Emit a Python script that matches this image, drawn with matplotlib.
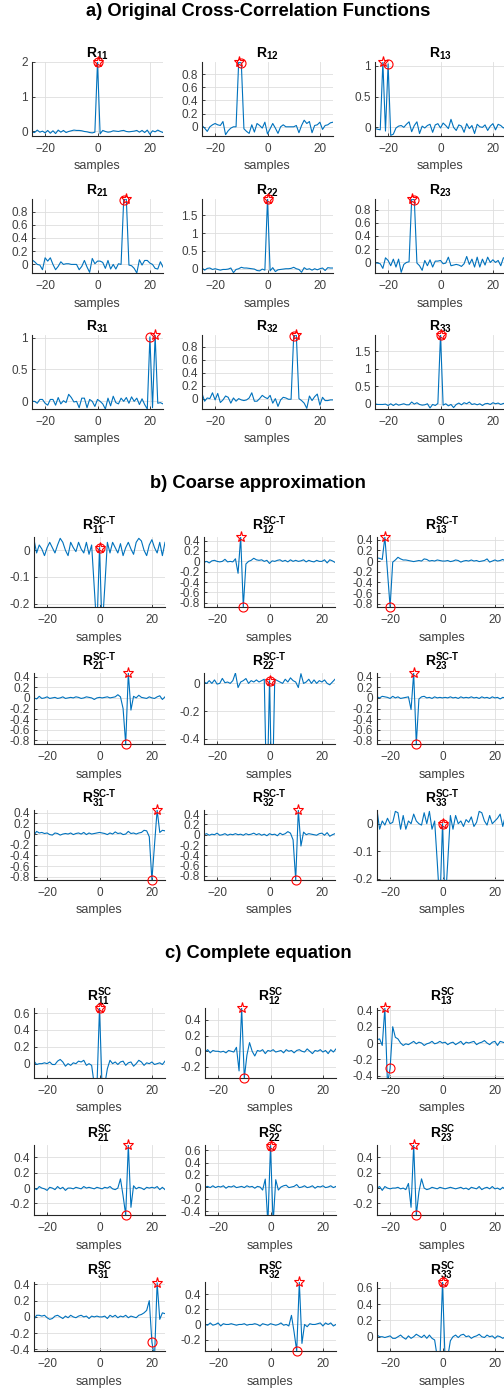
import numpy as np
import matplotlib.pyplot as plt
from matplotlib.ticker import MultipleLocator, FuncFormatter

plt.rcParams['font.family'] = ['Liberation Sans', 'DejaVu Sans']
plt.rcParams['mathtext.fontset'] = 'custom'
plt.rcParams['mathtext.rm'] = 'Liberation Sans:bold'
plt.rcParams['mathtext.it'] = 'Liberation Sans:bold'
plt.rcParams['mathtext.bf'] = 'Liberation Sans:bold'
plt.rcParams['mathtext.default'] = 'rm'

lags = np.arange(-25, 26)

# ---- a) original cross-correlation functions
a11 = [-0.02, -0.03, 0.04, -0.02, 0.01, -0.04, 0.03, -0.05, 0.02, -0.06,
       0.04, -0.02, 0.03, -0.03, 0.0, 0.02, 0.04, 0.03, 0.03, 0.02,
       0.0, -0.01, -0.03, -0.04, -0.02, 2.0,
       -0.07, 0.03, 0.0, -0.02, -0.01, 0.02, 0.01, 0.0, 0.02, 0.03,
       0.0, -0.01, 0.0, 0.01, 0.03, -0.02, 0.03, -0.03, 0.04, -0.08,
       0.02, -0.01, 0.04, 0.0, -0.03]
a12 = [0.02, -0.02, -0.07, 0.0, 0.03, 0.05, 0.03, 0.02, 0.08, -0.12,
       -0.06, -0.02, 0.0, 0.0, 0.985, 0.97, -0.03, -0.07, -0.1, 0.03,
       -0.08, 0.05, 0.02, -0.02, 0.07, -0.11,
       -0.03, 0.05, -0.02, -0.1, 0.0, 0.03, 0.0, 0.0, 0.0, 0.0,
       0.02, -0.09, 0.02, 0.1, 0.05, 0.08, -0.09, 0.02, 0.03, 0.07,
       -0.04, 0.02, 0.03, 0.06, 0.07]
a13 = [-0.02, -0.03, -0.04, 1.06, -0.06, 1.03, -0.13, -0.11, -0.01, 0.02,
       0.03, 0.0, 0.05, 0.09, -0.07, 0.03, 0.09, -0.1, 0.02, -0.01,
       0.03, 0.05, -0.08, 0.04, 0.06, -0.01,
       0.07, 0.03, -0.02, 0.13, 0.0, -0.05, 0.04, 0.02, -0.08, 0.06,
       -0.02, 0.03, -0.1, 0.05, 0.01, 0.0, 0.04, -0.05, 0.02, 0.06,
       -0.04, 0.05, 0.03, -0.01, 0.02]
a21 = [0.07, 0.04, 0.0, -0.01, -0.08, 0.1, 0.05, 0.1, 0.0, -0.08,
       -0.03, 0.04, 0.0, 0.01, 0.01, 0.0, 0.0, 0.0, -0.08, -0.03,
       0.06, -0.04, -0.12, 0.09, 0.01, 0.05,
       0.05, 0.03, -0.06, 0.06, -0.07, 0.0, -0.07, 0.01, 0.0, 0.98,
       0.99, -0.01, -0.02, -0.06, -0.13, 0.07, -0.01, 0.06, 0.06, 0.02,
       0.0, -0.06, -0.07, 0.04, -0.04]
a22 = [0.02, -0.04, 0.01, 0.02, -0.02, 0.0, -0.02, -0.04, -0.02, -0.02,
       -0.01, 0.02, -0.11, -0.02, 0.0, 0.04, 0.02, 0.02, 0.01, 0.0,
       -0.01, -0.05, -0.06, -0.01, -0.04, 1.96,
       -0.06, 0.03, -0.08, -0.03, -0.02, -0.01, 0.0, 0.0, 0.01, 0.04,
       0.0, -0.02, -0.1, 0.03, -0.02, 0.0, -0.04, 0.0, -0.03, 0.0,
       0.02, -0.05, 0.03, 0.02, 0.02]
a23 = [-0.01, -0.01, -0.02, -0.09, 0.07, 0.03, -0.05, 0.05, -0.07, 0.05,
       -0.15, -0.03, 0.0, 0.01, 0.96, 0.95, -0.01, -0.05, -0.12, 0.03,
       -0.05, 0.04, -0.07, 0.02, 0.02, 0.03,
       -0.02, -0.01, 0.08, -0.05, -0.04, -0.03, -0.04, -0.06, -0.02, 0.09,
       -0.03, 0.05, -0.07, 0.08, -0.07, 0.05, -0.04, 0.08, 0.0, 0.04,
       0.0, 0.03, -0.05, 0.07, 0.06]
a31 = [0.0, 0.0, -0.03, 0.03, 0.03, -0.03, -0.06, 0.03, 0.03, -0.06,
       0.06, -0.04, 0.01, -0.02, 0.11, 0.06, -0.01, 0.0, -0.1, 0.05,
       0.05, -0.1, 0.03, 0.0, -0.08, 0.03,
       0.0, -0.04, -0.12, 0.05, -0.07, 0.08, -0.02, -0.04, 0.05, 0.0,
       0.06, -0.03, 0.07, 0.0, 0.05, -0.05, 0.04, -0.05, -0.12, 1.01,
       -0.1, 1.04, -0.03, -0.02, -0.04]
a32 = [0.08, -0.04, 0.01, 0.0, 0.09, -0.02, 0.08, -0.06, -0.02, 0.04,
       0.02, -0.07, 0.01, -0.04, 0.0, -0.02, -0.03, -0.02, 0.01, 0.09,
       -0.04, -0.04, 0.0, 0.05, 0.02, 0.0,
       0.05, -0.07, 0.0, -0.12, -0.02, 0.02, 0.01, -0.01, -0.01, 0.97,
       0.98, 0.0, -0.03, -0.07, -0.15, 0.04, -0.03, 0.03, 0.07, -0.1,
       0.02, -0.03, -0.03, -0.02, -0.02]
a33 = [0.0, -0.02, -0.02, -0.02, -0.01, -0.05, 0.0, -0.05, 0.0, -0.04,
       -0.02, 0.0, -0.03, -0.03, 0.05, -0.01, 0.03, -0.02, -0.04, -0.03,
       0.0, -0.12, -0.02, -0.05, 0.01, 1.97,
       -0.04, 0.0, -0.06, -0.02, -0.11, -0.02, 0.02, -0.03, 0.03, 0.0,
       0.05, -0.02, 0.0, -0.03, 0.0, -0.05, 0.0, 0.01, -0.02, 0.03,
       0.0, 0.02, -0.02, 0.01, 0.0]

# ---- b) coarse approximation
b11 = [0.04, -0.01, 0.02, 0.005, -0.02, 0.01, 0.03, 0.01, -0.01, 0.02,
       0.045, 0.03, 0.0, -0.02, 0.03, 0.01, -0.005, 0.03, 0.005, -0.01,
       0.03, -0.015, 0.02, -0.14, -0.3, 0.01,
       -0.3, -0.14, 0.03, -0.01, 0.03, 0.01, -0.01, 0.025, -0.02, 0.01,
       0.03, 0.005, -0.015, 0.03, 0.045, 0.035, 0.0, -0.02, 0.02, 0.04,
       0.01, -0.01, 0.03, -0.02, 0.03]
b12 = [-0.02, 0.0, -0.03, 0.01, 0.02, 0.0, -0.01, 0.0, 0.04, -0.01,
       0.0, -0.01, 0.05, -0.23, 0.47, -0.88, -0.05, 0.0, 0.02, 0.06,
       0.03, 0.02, 0.03, 0.0, 0.02, -0.04,
       0.01, 0.0, 0.02, 0.03, 0.0, 0.02, -0.01, 0.03, 0.0, 0.02,
       0.0, 0.01, 0.03, -0.01, 0.02, 0.0, -0.01, 0.02, 0.0, 0.0,
       0.03, -0.03, 0.03, 0.01, -0.02]
b13 = [0.06, 0.05, 0.03, 0.45, -0.2, -0.86, -0.02, 0.02, 0.07, 0.04,
       0.02, 0.02, 0.01, 0.0, -0.01, 0.0, 0.01, 0.0, 0.04, 0.03,
       0.0, 0.01, 0.0, 0.02, 0.01, 0.0,
       0.0, 0.01, -0.01, 0.0, 0.02, 0.01, -0.02, 0.0, 0.01, 0.0,
       0.02, 0.0, 0.01, -0.01, 0.0, 0.01, 0.04, -0.02, 0.0, 0.02,
       0.0, 0.01, 0.03, 0.0, 0.02]
b21 = [0.0, -0.02, 0.03, -0.01, 0.0, 0.02, -0.01, 0.0, 0.01, -0.01,
       0.0, 0.02, -0.01, 0.0, 0.01, 0.0, 0.02, 0.01, -0.01, 0.0,
       0.02, 0.01, 0.0, -0.03, 0.0, 0.01,
       0.0, 0.01, 0.02, 0.0, 0.01, 0.02, 0.06, 0.02, -0.2, -0.87,
       0.47, -0.23, 0.03, 0.0, 0.05, 0.01, 0.0, -0.01, 0.02, 0.0,
       -0.01, 0.02, 0.04, -0.03, 0.02]
b22 = [0.01, 0.0, 0.02, 0.0, 0.025, -0.005, 0.0, 0.036, 0.005, 0.01,
       0.0, 0.02, 0.075, -0.03, 0.01, 0.02, 0.035, 0.0, 0.02, 0.01,
       0.025, 0.01, 0.02, 0.03, -0.9, 0.02,
       -0.9, 0.03, 0.02, 0.01, 0.0, 0.03, 0.01, 0.04, 0.02, 0.01,
       -0.03, 0.07, 0.0, 0.01, 0.03, 0.0, 0.025, 0.0, 0.02, 0.01,
       0.025, 0.0, -0.01, 0.01, 0.03]
b23 = [0.02, 0.0, 0.03, 0.02, 0.01, -0.01, 0.03, 0.0, 0.02, -0.01,
       0.0, 0.01, 0.02, -0.22, 0.47, -0.87, -0.02, 0.02, 0.03, 0.0,
       0.01, -0.01, 0.02, 0.0, 0.01, 0.0,
       0.01, 0.0, 0.02, 0.0, 0.01, -0.01, 0.02, 0.0, 0.01, 0.0,
       0.02, 0.0, 0.01, -0.01, 0.02, 0.0, 0.01, -0.01, 0.02, 0.0,
       0.01, -0.02, 0.01, 0.0, -0.03]
b31 = [-0.02, 0.05, 0.02, 0.03, 0.01, 0.02, -0.01, -0.02, 0.02, 0.01,
       -0.02, 0.0, 0.01, 0.0, 0.02, -0.01, 0.01, 0.02, 0.0, 0.03,
       -0.01, 0.02, 0.0, 0.01, 0.02, 0.03,
       0.02, 0.01, -0.01, 0.02, 0.0, 0.04, 0.01, 0.02, -0.01, 0.0,
       0.05, 0.01, 0.02, 0.0, 0.02, 0.03, 0.07, 0.06, -0.05, -0.86,
       -0.2, 0.45, 0.03, 0.07, 0.06]
b32 = [0.0, 0.02, -0.01, 0.01, 0.0, 0.03, -0.01, 0.0, 0.02, -0.01,
       0.01, 0.0, 0.02, 0.0, 0.01, -0.01, 0.02, 0.0, 0.01, 0.03,
       0.0, 0.02, -0.01, 0.01, -0.02, 0.02,
       0.0, 0.01, -0.02, 0.03, 0.0, 0.02, 0.06, 0.03, -0.1, -0.88,
       0.48, -0.22, 0.05, 0.0, 0.02, 0.01, 0.0, -0.01, 0.02, 0.03,
       -0.01, 0.04, -0.03, 0.0, 0.02]
b33 = [0.05, -0.02, 0.01, -0.005, 0.02, 0.0, 0.005, 0.045, 0.04, -0.02,
       0.03, -0.02, 0.01, 0.0, 0.035, 0.01, 0.0, -0.005, 0.04, 0.0,
       0.045, -0.02, 0.01, -0.14, -0.3, 0.0,
       -0.3, -0.14, 0.03, -0.02, 0.03, 0.0, 0.01, -0.01, 0.015, 0.005,
       0.025, -0.01, 0.005, 0.045, 0.04, 0.01, -0.005, 0.03, 0.0, 0.01,
       0.02, 0.035, -0.01, 0.03, 0.02]

# ---- c) complete equation
c11 = [0.03, -0.01, 0.0, 0.0, 0.01, 0.0, 0.02, -0.01, -0.01, 0.03,
       0.05, 0.02, -0.03, 0.0, -0.02, 0.01, 0.0, 0.03, 0.02, 0.04,
       -0.02, 0.0, -0.02, -0.25, -0.3, 0.66,
       -0.3, -0.25, -0.06, 0.04, 0.0, 0.02, -0.01, 0.02, 0.03, -0.02,
       0.01, 0.02, -0.03, 0.0, 0.04, 0.02, -0.02, 0.01, 0.0, 0.02,
       -0.01, 0.0, 0.01, -0.01, 0.03]
c12 = [-0.01, 0.02, -0.02, 0.01, 0.0, 0.0, -0.01, 0.0, -0.02, 0.01,
       0.0, -0.01, 0.05, -0.25, 0.55, -0.34, -0.05, 0.11, 0.0, -0.06,
       0.01, 0.0, 0.02, -0.03, 0.01, 0.0,
       0.02, -0.01, 0.0, 0.01, -0.02, 0.02, 0.0, 0.01, -0.02, 0.01,
       0.02, 0.0, -0.01, 0.03, 0.0, -0.03, 0.01, 0.0, 0.02, -0.01,
       0.01, -0.03, 0.02, -0.01, 0.03]
c13 = [0.04, 0.05, -0.03, 0.43, -0.5, -0.31, 0.2, 0.07, 0.05, 0.0,
       -0.03, -0.01, -0.02, 0.0, 0.02, -0.01, 0.01, 0.0, -0.03, -0.01,
       0.0, 0.02, -0.01, 0.0, 0.02, 0.0,
       0.01, -0.02, 0.0, 0.01, -0.02, 0.0, 0.02, -0.02, 0.01, 0.0,
       0.01, 0.02, -0.02, 0.0, 0.01, 0.03, 0.0, -0.02, 0.01, 0.02,
       -0.03, 0.02, 0.01, 0.0, 0.02]
c21 = [0.0, -0.02, 0.02, 0.0, -0.01, -0.03, 0.01, 0.0, -0.02, 0.02,
       -0.01, 0.01, -0.03, 0.0, 0.0, -0.01, 0.01, 0.0, -0.01, 0.02,
       0.0, 0.01, 0.0, -0.01, 0.01, 0.0,
       -0.01, 0.01, 0.0, 0.02, -0.01, -0.02, 0.0, 0.12, -0.1, -0.35,
       0.56, -0.25, 0.03, -0.01, 0.01, 0.0, -0.02, 0.01, 0.0, 0.01,
       0.0, 0.02, -0.02, 0.01, -0.02]
c22 = [0.0, 0.01, -0.01, 0.02, -0.01, 0.01, 0.0, 0.02, -0.02, 0.01,
       0.0, 0.02, -0.01, 0.0, 0.01, -0.01, 0.02, 0.0, 0.01, -0.02,
       0.01, 0.0, -0.05, 0.13, -0.6, 0.68,
       -0.6, 0.12, -0.05, 0.0, 0.02, 0.03, -0.01, 0.0, 0.01, 0.04,
       -0.01, 0.0, 0.02, -0.01, 0.0, 0.02, -0.02, 0.01, 0.0, 0.02,
       -0.01, 0.0, 0.02, -0.01, 0.01]
c23 = [0.0, 0.02, -0.03, 0.02, 0.0, -0.01, 0.0, 0.0, 0.01, -0.01,
       0.0, -0.02, 0.06, -0.25, 0.56, -0.35, -0.05, 0.12, 0.0, -0.02,
       -0.01, 0.01, 0.0, -0.01, 0.01, 0.0,
       -0.01, 0.0, 0.01, 0.0, -0.01, 0.0, 0.01, -0.01, 0.0, -0.02,
       0.01, 0.0, -0.01, 0.02, -0.02, 0.0, 0.01, -0.01, 0.02, -0.01,
       0.0, -0.02, 0.01, -0.02, 0.0]
c31 = [-0.03, 0.02, 0.02, 0.01, 0.02, -0.01, -0.03, -0.02, 0.01, 0.02,
       0.0, -0.02, 0.01, -0.01, 0.02, 0.0, -0.01, 0.01, 0.02, 0.0,
       0.01, -0.02, 0.01, 0.0, 0.01, 0.0,
       0.0, 0.01, -0.02, 0.02, 0.0, 0.02, -0.01, 0.01, 0.0, 0.02,
       -0.01, 0.01, 0.0, -0.01, 0.02, 0.03, 0.05, 0.08, 0.2, -0.31,
       -0.5, 0.42, -0.03, 0.05, 0.04]
c32 = [0.0, -0.01, 0.02, -0.01, 0.0, 0.02, -0.02, 0.01, 0.0, 0.0,
       0.01, 0.0, -0.01, 0.0, 0.0, 0.01, -0.01, 0.0, 0.0, 0.01,
       0.0, -0.02, 0.01, 0.0, -0.01, 0.01,
       0.0, -0.01, 0.0, 0.02, -0.01, 0.0, -0.02, 0.12, -0.1, -0.35,
       0.56, -0.25, 0.0, -0.03, 0.01, 0.0, 0.0, 0.01, 0.02, -0.02,
       0.02, 0.0, 0.02, -0.02, 0.0]
c33 = [0.02, 0.0, 0.0, -0.01, 0.0, 0.01, -0.02, -0.02, 0.0, 0.02,
       -0.01, -0.03, 0.01, -0.02, 0.0, 0.03, 0.01, -0.01, 0.02, -0.02,
       0.02, -0.02, -0.04, -0.25, -0.3, 0.67,
       -0.3, -0.25, -0.05, 0.0, 0.02, -0.01, 0.02, 0.03, 0.0, 0.01,
       -0.02, 0.0, 0.01, 0.03, 0.0, -0.01, 0.02, 0.0, 0.01, -0.02,
       0.01, 0.0, -0.02, 0.0, 0.0]

pairs = ['11', '12', '13', '21', '22', '23', '31', '32', '33']
star_lags = [0, -11, -22, 11, 0, -11, 22, 11, 0]
circle_lags = [0, -10, -20, 10, 0, -10, 20, 10, 0]

ylims_a = [(-0.13, 2.0), (-0.14, 0.985), (-0.14, 1.06), (-0.13, 0.99), (-0.12, 1.96),
           (-0.16, 0.96), (-0.12, 1.04), (-0.16, 0.98), (-0.15, 1.97)]
ylims_b = [(-0.213, 0.05), (-0.88, 0.47), (-0.86, 0.45), (-0.87, 0.47), (-0.437, 0.075),
           (-0.87, 0.47), (-0.86, 0.45), (-0.88, 0.48), (-0.205, 0.05)]
ylims_c = [(-0.17, 0.66), (-0.34, 0.55), (-0.43, 0.43), (-0.35, 0.56), (-0.46, 0.69),
           (-0.35, 0.56), (-0.42, 0.43), (-0.35, 0.56), (-0.175, 0.67)]
ysteps_a = [1, 0.2, 0.5, 0.2, 0.5, 0.2, 0.5, 0.2, 0.5]
ysteps_b = [0.1, 0.2, 0.2, 0.2, 0.2, 0.2, 0.2, 0.2, 0.1]
ysteps_c = [0.2] * 9

sections = [
    ('a) Original Cross-Correlation Functions', '', [a11, a12, a13, a21, a22, a23, a31, a32, a33], ylims_a, ysteps_a),
    ('b) Coarse approximation', 'SC\u2010T', [b11, b12, b13, b21, b22, b23, b31, b32, b33], ylims_b, ysteps_b),
    ('c) Complete equation', 'SC', [c11, c12, c13, c21, c22, c23, c31, c32, c33], ylims_c, ysteps_c),
]

# layout in pixels
W, H = 504, 1389
sec_title_y = [12, 484, 954]
col_left = [[32, 202, 375], [34, 204, 377], [34, 205, 377]]
row_top = [[62, 199, 335], [537, 673, 810], [1008, 1145, 1282]]
row_h = [[74, 74, 74], [70, 71, 70], [70, 70, 69]]
ax_w = 131

blue = '#0072BD'
tick_col = '#404040'


def fmt(v, pos):
    v = round(v, 6)
    return '0' if v == 0 else f'{v:g}'


fig = plt.figure(figsize=(W / 100, H / 100), dpi=100)

for s, (stitle, sup, series, ylims, ysteps) in enumerate(sections):
    fig.text(258 / W, 1 - sec_title_y[s] / H, stitle, ha='center', va='center',
             fontsize=13.2, fontweight='bold')
    for k in range(9):
        i, j = divmod(k, 3)
        left, top, h = col_left[s][j], row_top[s][i], row_h[s][i]
        ax = fig.add_axes([left / W, 1 - (top + h) / H, ax_w / W, h / H])
        y = np.array(series[k])
        ax.plot(lags, y, color=blue, lw=0.8)
        ax.plot(circle_lags[k], y[lags == circle_lags[k]], 'o', mfc='none', mec='red',
                ms=6.5, mew=0.8, clip_on=False, zorder=4)
        ax.plot(star_lags[k], y[lags == star_lags[k]], '*', mfc='none', mec='red',
                ms=8, mew=0.8, clip_on=False, zorder=5)
        ax.set_xlim(-25, 25)
        ax.set_ylim(*ylims[k])
        ax.xaxis.set_major_locator(MultipleLocator(20))
        ax.yaxis.set_major_locator(MultipleLocator(ysteps[k]))
        ax.yaxis.set_major_formatter(FuncFormatter(fmt))
        ax.grid(True, color='#dedede', lw=0.6)
        ax.set_axisbelow(True)
        for side in ['top', 'right']:
            ax.spines[side].set_visible(False)
        for side in ['left', 'bottom']:
            ax.spines[side].set_color('#262626')
            ax.spines[side].set_linewidth(0.8)
        ax.tick_params(direction='in', length=2.5, width=0.6, colors='#262626',
                       labelcolor=tick_col, labelsize=8.5)
        ax.tick_params(axis='x', pad=5)
        ax.tick_params(axis='y', pad=3)
        ax.set_xlabel('samples', fontsize=9, color=tick_col, labelpad=4)
        if sup:
            title = r'$R^{%s}_{%s}$' % (sup, pairs[k])
        else:
            title = r'$R_{%s}$' % pairs[k]
        ax.set_title(title, fontsize=10, pad=3)

fig.savefig('out.png', dpi=100)
